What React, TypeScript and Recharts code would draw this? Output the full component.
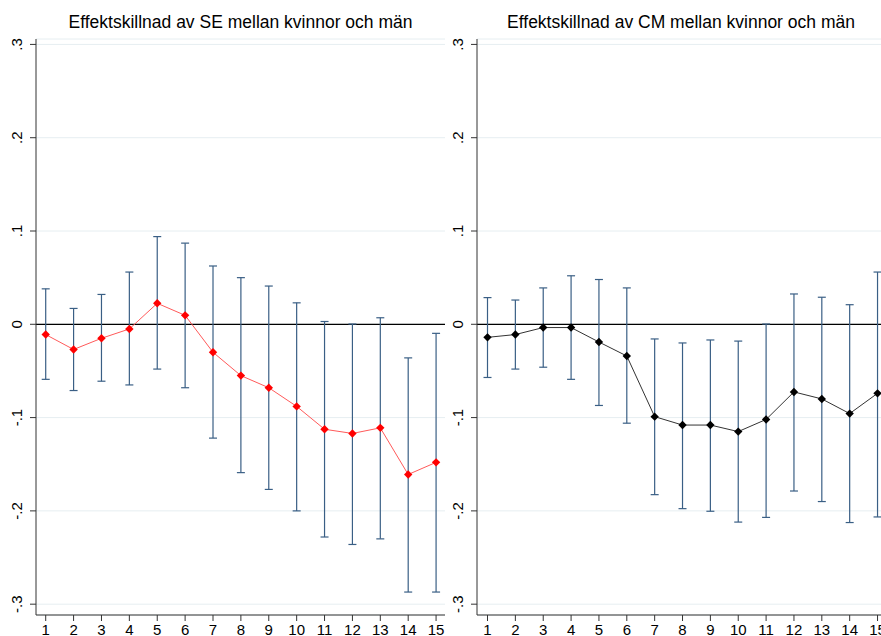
import React from 'react';
import {
  ComposedChart,
  Line,
  Scatter,
  ErrorBar,
  XAxis,
  YAxis,
  CartesianGrid,
  ReferenceLine,
} from 'recharts';

// ---------- data ----------
const periods = [1, 2, 3, 4, 5, 6, 7, 8, 9, 10, 11, 12, 13, 14, 15];

const seTitle = 'Effektskillnad av SE mellan kvinnor och män';
const seEstimate = [-0.011, -0.027, -0.015, -0.005, 0.0225, 0.0096, -0.03, -0.055, -0.068, -0.088, -0.1125, -0.117, -0.111, -0.161, -0.148];
const seUpper = [0.038, 0.017, 0.032, 0.056, 0.094, 0.087, 0.0625, 0.05, 0.041, 0.023, 0.003, 0.0003, 0.007, -0.036, -0.0097];
const seLower = [-0.059, -0.071, -0.061, -0.065, -0.048, -0.068, -0.122, -0.159, -0.177, -0.2, -0.228, -0.236, -0.23, -0.287, -0.287];

const cmTitle = 'Effektskillnad av CM mellan kvinnor och män';
const cmEstimate = [-0.014, -0.011, -0.0035, -0.0035, -0.019, -0.034, -0.099, -0.108, -0.108, -0.115, -0.102, -0.0725, -0.08, -0.0957, -0.074];
const cmUpper = [0.0286, 0.026, 0.039, 0.052, 0.048, 0.039, -0.0157, -0.02, -0.0168, -0.018, 0.0003, 0.0325, 0.029, 0.021, 0.056];
const cmLower = [-0.057, -0.048, -0.046, -0.059, -0.087, -0.106, -0.1826, -0.1976, -0.2004, -0.212, -0.207, -0.1787, -0.19, -0.2125, -0.2065];

const yTicks = [-0.3, -0.2, -0.1, 0, 0.1, 0.2, 0.3];
const yTickLabels = ['-.3', '-.2', '-.1', '0', '.1', '.2', '.3'];
const xTicks = periods;

// ---------- styles ----------
const FONT = '"Liberation Sans", Arial, Helvetica, sans-serif';
const CI_COLOR = '#3a5f85';
const AXIS_COLOR = '#333333';
const GRID_COLOR = '#e6eef1';

type Row = { x: number; est: number; err: [number, number] };

function buildRows(est: number[], lo: number[], hi: number[]): Row[] {
  return periods.map((p, i) => ({
    x: p,
    est: est[i],
    err: [est[i] - lo[i], hi[i] - est[i]],
  }));
}

const YTick = (props: any) => {
  const { x, y, payload } = props;
  const idx = yTicks.indexOf(payload.value);
  const label = idx >= 0 ? yTickLabels[idx] : String(payload.value);
  return (
    <text
      x={x}
      y={y}
      transform={`rotate(-90, ${x}, ${y})`}
      textAnchor="middle"
      fontSize={15}
      fill="#000"
      fontFamily={FONT}
    >
      {label}
    </text>
  );
};

const makeDiamond = (color: string) => (props: any) => {
  const { cx, cy, index } = props;
  if (cx == null || cy == null) return <g key={`d-${index}`} />;
  const r = 4.2;
  return (
    <polygon
      key={`d-${index}`}
      points={`${cx},${cy - r} ${cx + r},${cy} ${cx},${cy + r} ${cx - r},${cy}`}
      fill={color}
      stroke="none"
    />
  );
};

type PanelProps = {
  title: string;
  rows: Row[];
  color: string;
  lineColor: string;
  left: number;
  yAxisWidth: number;
  xDomain: [number, number];
};

const CHART_W = 450;
const CHART_H = 636;
const MARGIN_TOP = 39;
const MARGIN_RIGHT = 5;
const X_AXIS_H = 21;

const Panel = ({ title, rows, color, lineColor, left, yAxisWidth, xDomain }: PanelProps) => {
  const plotLeft = yAxisWidth;
  const plotRight = CHART_W - MARGIN_RIGHT;
  return (
    <div style={{ position: 'absolute', left, top: 0, width: CHART_W, height: CHART_H }}>
      <div
        style={{
          position: 'absolute',
          left: plotLeft,
          width: plotRight - plotLeft,
          top: 12,
          lineHeight: '20px',
          fontSize: 17.5,
          fontFamily: FONT,
          textAlign: 'center',
          color: '#000',
          whiteSpace: 'nowrap',
        }}
      >
        {title}
      </div>
      <ComposedChart
        width={CHART_W}
        height={CHART_H}
        data={rows}
        margin={{ top: MARGIN_TOP, right: MARGIN_RIGHT, bottom: 0, left: 0 }}
      >
        <CartesianGrid horizontal vertical={false} stroke={GRID_COLOR} strokeWidth={1} />
        <XAxis
          dataKey="x"
          type="number"
          domain={xDomain}
          ticks={xTicks}
          allowDataOverflow
          interval={0}
          height={X_AXIS_H}
          tickSize={6}
          tickMargin={3}
          axisLine={{ stroke: AXIS_COLOR, strokeWidth: 1 }}
          tickLine={{ stroke: AXIS_COLOR, strokeWidth: 1 }}
          tick={{ fontSize: 15, fill: '#000', fontFamily: FONT }}
        />
        <YAxis
          type="number"
          domain={[-0.3116, 0.3058]}
          ticks={yTicks}
          allowDataOverflow
          interval={0}
          width={yAxisWidth}
          tickSize={6}
          tickMargin={8}
          axisLine={{ stroke: AXIS_COLOR, strokeWidth: 1 }}
          tickLine={{ stroke: AXIS_COLOR, strokeWidth: 1 }}
          tick={<YTick />}
        />
        <ReferenceLine y={0} stroke="#000" strokeWidth={1.2} ifOverflow="extendDomain" />
        <Scatter dataKey="est" shape={() => <g />} isAnimationActive={false}>
          <ErrorBar
            dataKey="err"
            direction="y"
            width={4}
            stroke={CI_COLOR}
            strokeWidth={1.2}
            isAnimationActive={false}
          />
        </Scatter>
        <Line
          type="linear"
          dataKey="est"
          stroke={lineColor}
          strokeWidth={1}
          dot={makeDiamond(color)}
          activeDot={false}
          isAnimationActive={false}
        />
      </ComposedChart>
    </div>
  );
};

export default function App() {
  const seRows = buildRows(seEstimate, seLower, seUpper);
  const cmRows = buildRows(cmEstimate, cmLower, cmUpper);
  return (
    <div
      style={{
        position: 'absolute',
        left: 0,
        top: 0,
        width: 881,
        height: 636,
        overflow: 'hidden',
        background: '#fff',
      }}
    >
      <Panel
        title={seTitle}
        rows={seRows}
        color="#ff0000"
        lineColor="#ff5a5a"
        left={0}
        yAxisWidth={36}
        xDomain={[0.652, 15.32]}
      />
      <Panel
        title={cmTitle}
        rows={cmRows}
        color="#000000"
        lineColor="#333333"
        left={440}
        yAxisWidth={37}
        xDomain={[0.623, 15.268]}
      />
    </div>
  );
}
